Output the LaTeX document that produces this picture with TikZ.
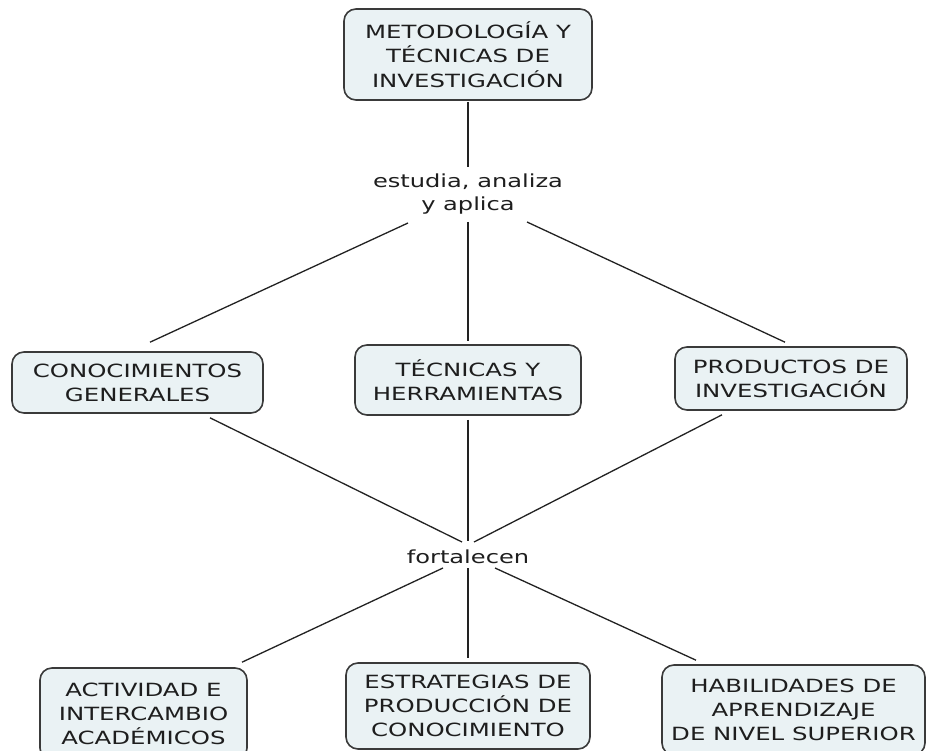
\documentclass[tikz,border=0pt]{standalone}
\usepackage{fontspec}
\setmainfont{DejaVu Sans}[FakeStretch=1.34]
\usetikzlibrary{calc}
\definecolor{boxfill}{HTML}{EAF2F4}
\definecolor{boxdraw}{HTML}{3A3A3A}
\definecolor{txt}{HTML}{1E1E1E}
\definecolor{linkc}{HTML}{222222}
\begin{document}
\begin{tikzpicture}[x=1pt,y=-1pt,
  concept/.style={draw=boxdraw, line width=1.6pt, fill=boxfill, rounded corners=12pt,
    inner sep=0pt, align=center, text=txt, font=\fontsize{18.2}{24.2}\selectfont},
  linklabel/.style={inner sep=0pt, align=center, text=txt, font=\fontsize{18}{23}\selectfont},
  link/.style={draw=linkc, line width=1.3pt}]
\clip (0,0) rectangle (931,751);
\fill[white] (0,0) rectangle (931,751);

\node[concept, minimum width=248pt, minimum height=91pt] (top) at (468,54.5)
  {METODOLOGÍA Y\\TÉCNICAS DE\\INVESTIGACIÓN};
\node[linklabel] (lab1) at (468,194) {estudia, analiza\\y aplica};
\node[concept, minimum width=251pt, minimum height=61pt] (conoc) at (137.5,382.5)
  {CONOCIMIENTOS\\GENERALES};
\node[concept, minimum width=226pt, minimum height=70pt] (tec) at (468,380)
  {TÉCNICAS Y\\HERRAMIENTAS};
\node[concept, minimum width=232pt, minimum height=63pt] (prod) at (791,378.5)
  {PRODUCTOS DE\\INVESTIGACIÓN};
\node[linklabel] (lab2) at (468,557) {fortalecen};
\node[concept, minimum width=207pt, minimum height=92pt] (act) at (143.5,714)
  {ACTIVIDAD E\\INTERCAMBIO\\ACADÉMICOS};
\node[concept, minimum width=244pt, minimum height=86pt] (est) at (468,706)
  {ESTRATEGIAS DE\\PRODUCCIÓN DE\\CONOCIMIENTO};
\node[concept, minimum width=263pt, minimum height=90pt] (hab) at (793.5,710)
  {HABILIDADES DE\\APRENDIZAJE\\DE NIVEL SUPERIOR};

\draw[link] ($(top.south)+(0,1)$) -- ($(lab1.center)+(0,-27)$);
\draw[link] ($(lab1.center)+(-60,29)$) -- ($(conoc.north)+(12.5,-9)$);
\draw[link] ($(lab1.center)+(0,28)$) -- ($(tec.north)+(0,-3)$);
\draw[link] ($(lab1.center)+(59,28)$) -- ($(prod.north)+(-6,-4)$);
\draw[link] ($(conoc.south)+(72.5,4)$) -- ($(lab2.center)+(-6,-15)$);
\draw[link] ($(tec.south)+(0,4)$) -- ($(lab2.center)+(0,-16)$);
\draw[link] ($(prod.south)+(-69,4)$) -- ($(lab2.center)+(6,-15)$);
\draw[link] ($(lab2.center)+(-25,11)$) -- ($(act.north)+(98.5,-5)$);
\draw[link] ($(lab2.center)+(0,11)$) -- ($(est.north)+(0,-4)$);
\draw[link] ($(lab2.center)+(27,11)$) -- ($(hab.north)+(-97.5,-4)$);
\end{tikzpicture}
\end{document}
